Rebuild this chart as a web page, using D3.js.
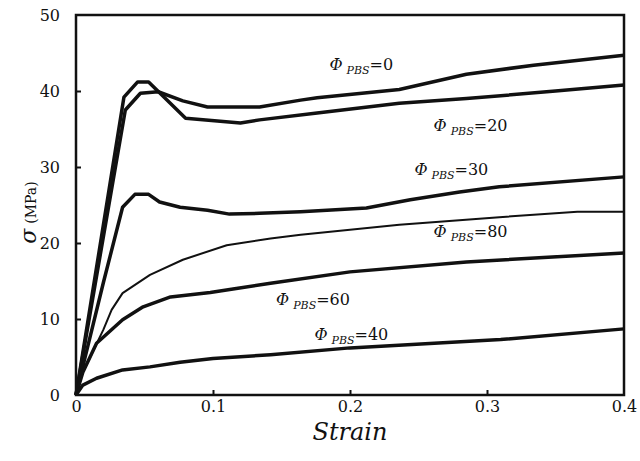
<!DOCTYPE html>
<html><head><meta charset="utf-8">
<script src="https://cdn.jsdelivr.net/npm/d3@7"></script>
<style>body{margin:0;background:#fff}svg{display:block}</style>
</head><body>
<script>
// ---- data ----
const xTicks = [0, 0.1, 0.2, 0.3, 0.4];
const yTicks = [0, 10, 20, 30, 40, 50];
const seriesNames = ["0", "20", "30", "80", "60", "40"];
const strain0  = [0, 0.036, 0.047, 0.06, 0.078, 0.096, 0.134, 0.164, 0.176, 0.236, 0.285, 0.334, 0.4];
const stress0  = [0, 37.5, 39.7, 39.9, 38.7, 37.9, 37.9, 38.8, 39.1, 40.2, 42.2, 43.4, 44.7];
const strain20 = [0, 0.035, 0.045, 0.053, 0.08, 0.12, 0.134, 0.176, 0.236, 0.285, 0.35, 0.4];
const stress20 = [0, 39.2, 41.2, 41.2, 36.4, 35.8, 36.2, 37.1, 38.4, 39.0, 40.0, 40.8];
const strain30 = [0, 0.006, 0.02, 0.034, 0.043, 0.053, 0.061, 0.076, 0.096, 0.112, 0.134, 0.164, 0.212, 0.244, 0.28, 0.309, 0.4];
const stress30 = [0, 4.5, 14.8, 24.7, 26.4, 26.4, 25.4, 24.7, 24.3, 23.8, 23.9, 24.1, 24.6, 25.7, 26.7, 27.4, 28.7];
const strain80 = [0, 0.005, 0.02, 0.026, 0.034, 0.054, 0.078, 0.11, 0.142, 0.164, 0.236, 0.309, 0.366, 0.4];
const stress80 = [0, 3, 8.6, 11.2, 13.4, 15.8, 17.8, 19.7, 20.6, 21.1, 22.4, 23.4, 24.1, 24.1];
const strain60 = [0, 0.005, 0.015, 0.034, 0.049, 0.069, 0.098, 0.117, 0.142, 0.2, 0.285, 0.4];
const stress60 = [0, 3, 6.8, 9.9, 11.6, 12.9, 13.5, 14.0, 14.7, 16.2, 17.5, 18.7];
const strain40 = [0, 0.005, 0.015, 0.034, 0.054, 0.076, 0.1, 0.142, 0.2, 0.31, 0.4];
const stress40 = [0, 1.3, 2.2, 3.3, 3.7, 4.3, 4.8, 5.3, 6.2, 7.3, 8.7];
// label anchor positions in data units (strain, stress)
const labelX = [0.185, 0.261, 0.247, 0.261, 0.146, 0.174];
const labelY = [42.8, 34.8, 29.0, 20.8, 11.8, 7.3];

const strains = [strain0, strain20, strain30, strain80, strain60, strain40];
const stresses = [stress0, stress20, stress30, stress80, stress60, stress40];
const widths = [3.5, 3.5, 3.5, 2, 3.5, 3.5];

const W = 640, H = 461;
const m = {left: 76, right: 16, top: 15, bottom: 66};
const svg = d3.select("body").append("svg").attr("width", W).attr("height", H);
const x = d3.scaleLinear().domain([0, 0.4]).range([m.left, W - m.right]);
const y = d3.scaleLinear().domain([0, 50]).range([H - m.bottom, m.top]);
const serif = "DejaVu Serif";

// curves
const line = d3.line().x(d => x(d[0])).y(d => y(d[1]));
seriesNames.forEach((n, i) => {
  const pts = strains[i].map((s, j) => [s, stresses[i][j]]);
  svg.append("path").attr("d", line(pts)).attr("fill", "none")
    .attr("stroke", "#111").attr("stroke-width", widths[i]).attr("stroke-linejoin", "round");
});

// axes
const xAxis = d3.axisBottom(x).tickValues(xTicks).tickSize(-5).tickPadding(6).tickFormat(d => d === 0 ? "0" : d3.format(".1f")(d));
const gx = svg.append("g").attr("transform", `translate(0,${y(0)})`).call(xAxis);
const yAxis = d3.axisLeft(y).tickValues(yTicks).tickSize(-5).tickPadding(16).tickFormat(d3.format("d"));
const gy = svg.append("g").attr("transform", `translate(${x(0)},0)`).call(yAxis);
[gx, gy].forEach(g => {
  g.attr("font-family", null).attr("font-size", null);
  g.select(".domain").remove();
  g.selectAll(".tick line").attr("stroke", "#111").attr("stroke-width", 2);
  g.selectAll(".tick text").style("font-family", serif).style("font-size", "16px").attr("fill", "#111");
});
gx.selectAll(".tick").filter(d => d === 0 || d === 0.4).select("line").remove();
gy.selectAll(".tick").filter(d => d === 0 || d === 50).select("line").remove();

// frame
svg.append("rect").attr("x", x(0)).attr("y", y(50)).attr("width", x(0.4) - x(0)).attr("height", y(0) - y(50))
  .attr("fill", "none").attr("stroke", "#111").attr("stroke-width", 2.5);

// series labels
seriesNames.forEach((n, i) => {
  const t = svg.append("text").attr("x", x(labelX[i])).attr("y", y(labelY[i]))
    .style("font-family", serif).style("font-size", "16px").attr("fill", "#111");
  t.append("tspan").style("font-style", "italic").text("Φ");
  t.append("tspan").style("font-style", "italic").style("font-size", "11px").attr("dx", 4).attr("dy", 4).text("PBS");
  t.append("tspan").attr("dy", -4).text("=" + n);
});

// axis titles
svg.append("text").attr("x", x(0.2)).attr("y", 440).attr("text-anchor", "middle")
  .style("font-family", serif).style("font-style", "italic").style("font-size", "24px").attr("fill", "#111").text("Strain");
const yt = svg.append("text").attr("transform", `translate(36,${y(24)}) rotate(-90)`).attr("text-anchor", "middle")
  .style("font-family", serif).attr("fill", "#111");
yt.append("tspan").style("font-style", "italic").style("font-size", "22px").text("σ");
yt.append("tspan").style("font-size", "14px").attr("dx", 5).text("(MPa)");
</script>
</body></html>
